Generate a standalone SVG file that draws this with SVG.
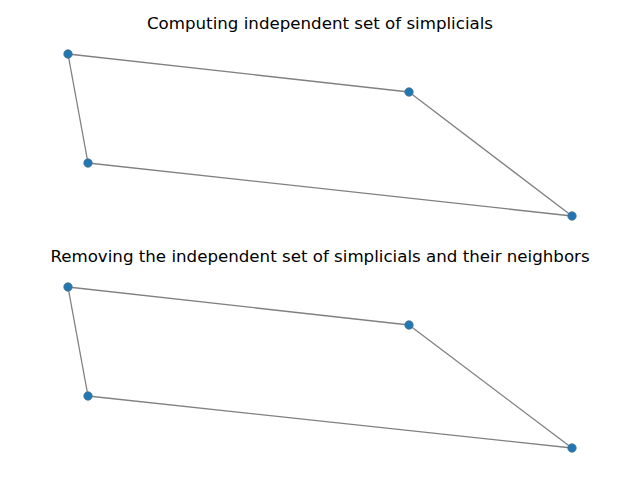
<svg xmlns="http://www.w3.org/2000/svg" width="640" height="480" viewBox="0 0 640 480">
<style>
.t{font-family:"DejaVu Sans",sans-serif;font-size:16.67px;fill:#000;text-anchor:middle}
.e{stroke:#808080;stroke-width:1.3;fill:none}
.n{fill:#1f77b4;stroke:#4a6f8a;stroke-width:0.8}
</style>
<rect width="640" height="480" fill="#fff"/>
<text class="t" x="320" y="29">Computing independent set of simplicials</text>
<text class="t" x="320" y="262">Removing the independent set of simplicials and their neighbors</text>
<g id="connectors">
<line class="e" x1="68" y1="54" x2="409" y2="92"/>
<line class="e" x1="409" y1="92" x2="572" y2="216"/>
<line class="e" x1="572" y1="216" x2="88" y2="163"/>
<line class="e" x1="88" y1="163" x2="68" y2="54"/>
<line class="e" x1="68" y1="287" x2="409" y2="325"/>
<line class="e" x1="409" y1="325" x2="572" y2="448"/>
<line class="e" x1="572" y1="448" x2="88" y2="396"/>
<line class="e" x1="88" y1="396" x2="68" y2="287"/>
</g>
<g id="a1"><circle class="n" cx="68" cy="54" r="4.2"/></g>
<g id="a2"><circle class="n" cx="409" cy="92" r="4.2"/></g>
<g id="a3"><circle class="n" cx="572" cy="216" r="4.2"/></g>
<g id="a4"><circle class="n" cx="88" cy="163" r="4.2"/></g>
<g id="b1"><circle class="n" cx="68" cy="287" r="4.2"/></g>
<g id="b2"><circle class="n" cx="409" cy="325" r="4.2"/></g>
<g id="b3"><circle class="n" cx="572" cy="448" r="4.2"/></g>
<g id="b4"><circle class="n" cx="88" cy="396" r="4.2"/></g>
</svg>
